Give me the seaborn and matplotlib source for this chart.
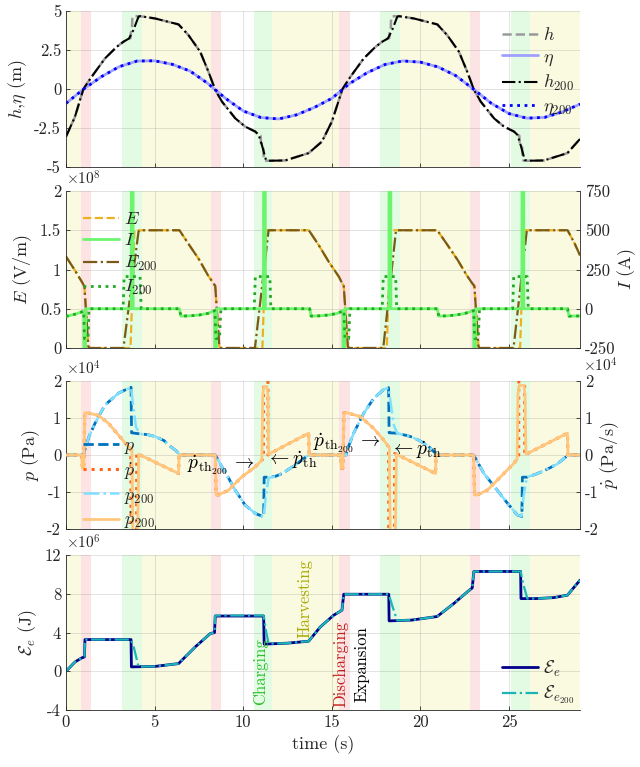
import matplotlib
matplotlib.use("Agg")
import matplotlib.pyplot as plt
import seaborn as sns
from matplotlib.ticker import FuncFormatter

# ---------------- data ----------------
# phase background spans (s)
span_start = [0, 0.83, 3.18, 4.31, 8.19, 10.58, 11.62, 15.42, 17.7, 18.83, 22.77, 25.12, 26.18]
span_end = [0.83, 1.41, 4.31, 8.19, 8.76, 11.62, 15.42, 16.04, 18.83, 22.77, 23.35, 26.18, 29.0]
span_kind = ['harvest', 'discharge', 'charge', 'harvest', 'discharge', 'charge', 'harvest',
             'discharge', 'charge', 'harvest', 'discharge', 'charge', 'harvest']

# panel 1: heights (m)
t_h = [0, 0.5, 0.98, 1.45, 2.2, 2.86, 3.24, 3.56, 3.64, 3.66, 3.72, 3.74, 3.8, 4.18, 5.03, 6.35, 6.91,
       7.57, 8.04, 8.42, 8.8, 9.55, 10.11, 10.68, 10.87, 10.98, 11.0, 11.13, 11.15, 11.22, 11.43, 12.37,
       13.69, 14.44, 15.0, 15.6, 16.05, 16.8, 17.46, 17.84, 18.16, 18.24, 18.26, 18.32, 18.34, 18.4,
       18.78, 19.63, 20.95, 21.51, 22.17, 22.64, 23.02, 23.4, 24.15, 24.71, 25.28, 25.47, 25.58, 25.6,
       25.73, 25.75, 25.82, 26.03, 26.97, 28.29, 29.0]
h = [-3.05, -1.8, 0.0, 0.79, 1.96, 2.7, 3.03, 3.24, 3.26, 3.62, 3.72, 4.5, 4.66, 4.67, 4.52, 4.14, 3.45,
     2.39, 1.1, -0.06, -0.81, -1.88, -2.41, -2.73, -2.94, -3.0, -3.45, -3.62, -4.3, -4.6, -4.6, -4.58,
     -4.11, -3.37, -2.09, 0.0, 0.79, 1.96, 2.7, 3.03, 3.24, 3.26, 3.62, 3.72, 4.5, 4.66,
     4.67, 4.52, 4.14, 3.45, 2.39, 1.1, -0.06, -0.81, -1.88, -2.41, -2.73, -2.94, -3.0, -3.45,
     -3.62, -4.3, -4.6, -4.6, -4.58, -4.11, -3.2]
t_h200 = [0, 0.5, 0.98, 1.45, 2.2, 2.86, 3.24, 3.56, 3.8, 4.09, 4.18, 5.03, 6.35, 6.91, 7.57, 8.04, 8.42,
          8.8, 9.55, 10.11, 10.68, 10.87, 11.05, 11.28, 11.43, 12.37, 13.69, 14.44, 15.0, 15.6, 16.05,
          16.8, 17.46, 17.84, 18.16, 18.4, 18.69, 18.78, 19.63, 20.95, 21.51, 22.17, 22.64, 23.02, 23.4,
          24.15, 24.71, 25.28, 25.47, 25.65, 25.88, 26.03, 26.97, 28.29, 29.0]
h200 = [-3.05, -1.8, 0.0, 0.79, 1.96, 2.7, 3.03, 3.24, 3.77, 4.63, 4.67, 4.52, 4.14, 3.45, 2.39, 1.1, -0.06,
        -0.81, -1.88, -2.41, -2.73, -2.94, -3.58, -4.54, -4.6, -4.58, -4.11, -3.37, -2.09, 0.0, 0.79,
        1.96, 2.7, 3.03, 3.24, 3.77, 4.63, 4.67, 4.52, 4.14, 3.45, 2.39, 1.1, -0.06, -0.81,
        -1.88, -2.41, -2.73, -2.94, -3.58, -4.54, -4.6, -4.58, -4.11, -3.2]
t_eta = list(range(0, 30))
eta = [-0.92, 0.0, 0.79, 1.43, 1.79, 1.81, 1.58, 1.15, 0.36, -0.6, -1.41, -1.83, -1.92, -1.66, -1.19,
       -0.6, 0.35, 1.05, 1.57, 1.8, 1.72, 1.41, 0.85, -0.02, -0.92, -1.58, -1.87, -1.82, -1.47, -0.97]
eta200 = [-0.92, 0.0, 0.79, 1.43, 1.79, 1.81, 1.58, 1.15, 0.36, -0.6, -1.41, -1.83, -1.92, -1.66, -1.19,
          -0.6, 0.35, 1.05, 1.57, 1.8, 1.72, 1.41, 0.85, -0.02, -0.92, -1.58, -1.87, -1.82, -1.47, -0.97]

# panel 2: field (x1e8 V/m) and current (A)
t_E = [0, 0.5, 0.94, 1.04, 1.26, 1.32, 3.64, 3.86, 6.4, 6.9, 7.5, 8.0, 8.3, 8.42, 8.65, 8.72, 11.08, 11.3,
       13.7, 14.26, 14.82, 15.39, 15.57, 15.67, 15.9, 15.97, 18.1, 18.32, 20.95, 21.5, 22.1, 22.6, 22.9,
       23.04, 23.27, 23.34, 25.62, 25.84, 28.3, 28.7, 29.0]
E = [1.165, 0.99, 0.826, 0.78, 0.02, 0, 0, 1.5, 1.5, 1.33, 1.13, 0.93, 0.83, 0.79, 0.02, 0, 0, 1.5,
     1.5, 1.31, 1.1, 0.91, 0.83, 0.79, 0.02, 0, 0, 1.5, 1.5, 1.32, 1.12, 0.93, 0.83,
     0.79, 0.02, 0, 0, 1.5, 1.5, 1.33, 1.18]
t_E200 = [0, 0.5, 0.94, 1.04, 1.26, 1.32, 3.24, 4.09, 4.15, 6.4, 6.9, 7.5, 8.0, 8.3, 8.42, 8.65, 8.72,
          10.66, 11.43, 13.7, 14.26, 14.82, 15.39, 15.57, 15.67, 15.9, 15.97, 17.9, 18.62, 20.95, 21.5,
          22.1, 22.6, 22.9, 23.04, 23.27, 23.34, 25.25, 26.0, 28.3, 28.7, 29.0]
E200 = [1.165, 0.99, 0.826, 0.78, 0.02, 0, 0, 1.48, 1.5, 1.5, 1.33, 1.13, 0.93, 0.83, 0.79, 0.02, 0,
        0, 1.5, 1.5, 1.31, 1.1, 0.91, 0.83, 0.79, 0.02, 0, 0, 1.5, 1.5, 1.32,
        1.12, 0.93, 0.83, 0.79, 0.02, 0, 0, 1.5, 1.5, 1.33, 1.18]
t_I = [0, 0.5, 0.85, 1.0, 1.02, 1.09, 1.11, 3.68, 3.7, 3.77, 3.79, 6.4, 6.48, 7.0, 7.5, 8.0, 8.38, 8.4,
       8.47, 8.49, 11.14, 11.16, 11.23, 11.25, 13.75, 13.83, 14.3, 14.8, 15.3, 15.62, 15.64, 15.71, 15.73,
       18.22, 18.24, 18.31, 18.33, 20.95, 21.03, 21.5, 22.0, 22.5, 23.0, 23.02, 23.09, 23.11, 25.72, 25.74,
       25.81, 25.83, 28.3, 28.38, 29.0]
I = [-49, -35, -22, -15, -900, -900, 0, 0, 2500, 2500, 0, 0, -47, -45, -40, -30, -12, -900,
     -900, 0, 0, 2500, 2500, 0, 0, -47, -45, -40, -30, -12, -900, -900, 0,
     0, 2500, 2500, 0, 0, -47, -45, -40, -30, -12, -900, -900, 0, 0, 2500,
     2500, 0, 0, -47, -46]
t_I200 = [0, 0.5, 0.85, 1.0, 1.04, 1.24, 1.3, 3.22, 3.28, 4.18, 4.24, 6.4, 6.48, 7.0, 7.5, 8.0, 8.4, 8.46,
          8.66, 8.74, 10.62, 10.68, 11.5, 11.56, 13.75, 13.83, 14.3, 14.8, 15.3, 15.68, 15.74, 15.95,
          16.02, 17.84, 17.9, 18.6, 18.66, 20.95, 21.03, 21.5, 22.0, 22.5, 23.0, 23.06, 23.26, 23.33,
          25.2, 25.26, 26.02, 26.08, 28.3, 28.38, 29.0]
I200 = [-49, -35, -22, -15, -190, -190, 0, 0, 205, 205, 0, 0, -47, -45, -40, -30, -12, -190,
        -190, 0, 0, 205, 205, 0, 0, -47, -45, -40, -30, -12, -190, -190,
        0, 0, 205, 205, 0, 0, -47, -45, -40, -30, -12, -190, -190, 0,
        0, 205, 205, 0, 0, -47, -46]

# panel 3: pressure (x1e4 Pa) and its rate (x1e4 Pa/s)
t_p = [0, 1.0, 1.04, 1.3, 1.64, 2.2, 2.96, 3.43, 3.67, 3.7, 4.18, 4.6, 5.03, 5.53, 5.78, 6.2, 6.42, 8.42,
       8.8, 9.17, 9.55, 10.1, 10.68, 11.15, 11.18, 11.43, 11.8, 12.2, 12.94, 13.4, 13.69, 15.8, 15.86,
       16.23, 16.8, 17.36, 17.93, 18.2, 18.23, 18.68, 19.43, 19.9, 20.38, 20.94, 23.0, 23.58, 24.33,
       24.9, 25.46, 25.72, 25.75, 26.0, 26.5, 27.0, 27.7, 28.34, 29.0]
p = [0, 0, 0.1, 0.5, 0.86, 1.35, 1.67, 1.78, 1.83, 0.6, 0.57, 0.55, 0.5, 0.39, 0.27, 0.12, 0, 0,
     -0.32, -0.62, -0.95, -1.35, -1.58, -1.67, -0.6, -0.6, -0.58, -0.5, -0.27, -0.1, 0, 0, 0.13,
     0.59, 1.13, 1.53, 1.77, 1.82, 0.6, 0.59, 0.5, 0.4, 0.27, 0, 0, -0.5, -0.95,
     -1.3, -1.62, -1.66, -0.6, -0.6, -0.52, -0.42, -0.25, 0, 0]
t_p200 = [0, 1.0, 1.04, 1.3, 1.64, 2.2, 2.96, 3.43, 3.67, 3.8, 3.95, 4.18, 4.6, 5.03, 5.53, 5.78, 6.2,
          6.42, 8.42, 8.8, 9.17, 9.55, 10.1, 10.68, 11.15, 11.28, 11.43, 11.8, 12.2, 12.94, 13.4, 13.69,
          15.8, 15.86, 16.23, 16.8, 17.36, 17.93, 18.2, 18.35, 18.5, 18.68, 19.43, 19.9, 20.38, 20.94,
          23.0, 23.58, 24.33, 24.9, 25.46, 25.7, 25.82, 26.0, 26.5, 27.0, 27.7, 28.34, 29.0]
p200 = [0, 0, 0.1, 0.5, 0.86, 1.35, 1.67, 1.78, 1.83, 1.3, 0.75, 0.57, 0.55, 0.5, 0.39, 0.27, 0.12,
        0, 0, -0.32, -0.62, -0.95, -1.35, -1.58, -1.67, -1.1, -0.62, -0.58, -0.5, -0.27, -0.1, 0,
        0, 0.13, 0.59, 1.13, 1.53, 1.77, 1.82, 1.3, 0.8, 0.59, 0.5, 0.4, 0.27, 0,
        0, -0.5, -0.95, -1.3, -1.62, -1.65, -1.1, -0.6, -0.52, -0.42, -0.25, 0, 0]
t_pd = [0, 0.88, 0.93, 1.0, 1.06, 1.2, 1.83, 2.39, 2.96, 3.43, 3.66, 3.68, 3.97, 3.99, 4.1, 6.35, 6.38,
        8.42, 8.47, 8.6, 9.17, 9.92, 10.68, 11.05, 11.14, 11.16, 11.38, 11.4, 11.43, 13.69, 13.72, 15.5,
        15.54, 15.62, 15.68, 15.86, 16.6, 17.36, 17.93, 18.2, 18.22, 18.52, 18.54, 18.64, 20.85, 20.88,
        23.0, 23.05, 23.2, 23.77, 24.52, 25.18, 25.45, 25.54, 25.56, 25.86, 25.88, 25.95, 28.29, 28.32,
        29.0]
pd_ = [0, 0, -0.36, -0.36, 1.14, 1.14, 1.07, 0.86, 0.54, 0.27, 0.18, -6, -6, 0.04, 0.02, -0.5, 0,
       0, -1.08, -1.08, -0.95, -0.59, -0.32, -0.14, -0.08, 6, 6, 0.0, 0.02, 0.59, 0, 0,
       -0.36, -0.36, 1.14, 1.14, 1.04, 0.72, 0.4, 0.22, -6, -6, 0.04, 0.02, -0.5, 0,
       0, -1.08, -1.08, -0.95, -0.59, -0.27, -0.12, -0.08, 6, 6, 0.0, 0.02, 0.59, 0,
       0]
t_pd200 = [0, 0.88, 0.93, 1.0, 1.06, 1.2, 1.83, 2.39, 2.96, 3.43, 3.72, 3.78, 4.04, 4.1, 6.35, 6.38,
           8.42, 8.47, 8.6, 9.17, 9.92, 10.68, 11.05, 11.1, 11.16, 11.33, 11.4, 11.43, 13.69, 13.72,
           15.5, 15.54, 15.62, 15.68, 15.86, 16.6, 17.36, 17.93, 18.24, 18.3, 18.58, 18.64, 20.85,
           20.88, 23.0, 23.05, 23.2, 23.77, 24.52, 25.18, 25.45, 25.5, 25.56, 25.84, 25.9, 25.95,
           28.29, 28.32, 29.0]
pd200 = [0, 0, -0.36, -0.36, 1.14, 1.14, 1.07, 0.86, 0.54, 0.27, 0.15, -2.4, -2.4, 0.02, -0.5, 0,
         0, -1.08, -1.08, -0.95, -0.59, -0.32, -0.14, 1.6, 1.85, 1.85, 1.6, 0.02, 0.59, 0,
         0, -0.36, -0.36, 1.14, 1.14, 1.04, 0.72, 0.4, 0.2, -2.4, -2.4, 0.02, -0.5,
         0, 0, -1.08, -1.08, -0.95, -0.59, -0.27, -0.12, 1.65, 1.88, 1.88, 1.6, 0.02,
         0.59, 0, 0]

# panel 4: harvested energy (x1e6 J)
t_Ee = [0, 0.51, 0.89, 1.04, 1.07, 3.67, 3.69, 5.03, 6.35, 7.29, 8.14, 8.38, 8.42, 11.15, 11.18, 12.5,
        13.69, 14.35, 15.1, 15.57, 15.67, 18.21, 18.23, 19.5, 20.94, 21.88, 22.64, 22.92, 23.01, 25.65,
        25.67, 26.5, 27.5, 28.29, 29.0]
Ee = [0, 0.96, 1.38, 1.48, 3.27, 3.27, 0.45, 0.5, 0.79, 2.51, 3.89, 3.99, 5.7, 5.7, 2.8, 2.9,
      3.1, 4.58, 5.78, 6.3, 7.95, 7.95, 5.2, 5.28, 5.65, 6.99, 8.19, 8.6, 10.3, 10.3,
      7.5, 7.5, 7.6, 7.85, 9.4]
t_Ee200 = [0, 0.51, 0.89, 1.04, 1.07, 3.67, 3.85, 4.09, 5.03, 6.35, 7.29, 8.14, 8.38, 8.42, 11.15, 11.3,
           11.43, 12.5, 13.69, 14.35, 15.1, 15.57, 15.67, 18.21, 18.4, 18.68, 19.5, 20.94, 21.88, 22.64,
           22.92, 23.01, 25.65, 25.8, 26.03, 26.5, 27.5, 28.29, 29.0]
Ee200 = [0, 0.96, 1.38, 1.48, 3.27, 3.27, 2.3, 0.47, 0.5, 0.79, 2.51, 3.89, 3.99, 5.75, 5.75, 4.0,
         2.85, 2.9, 3.1, 4.58, 5.78, 6.3, 7.95, 7.95, 6.8, 5.25, 5.28, 5.65, 6.99, 8.19,
         8.6, 10.3, 10.3, 9.0, 7.5, 7.5, 7.6, 7.85, 9.4]

x_ticks = [0, 5, 10, 15, 20, 25]
phase_labels = ['Charging', 'Harvesting', 'Discharging', 'Expansion']

# ---------------- style ----------------
sns.set_theme(style="white")
plt.rcParams.update({
    'font.family': 'serif',
    'font.serif': ['cmr10', 'DejaVu Serif'],
    'mathtext.fontset': 'cm',
    'axes.unicode_minus': False,
    'axes.formatter.use_mathtext': True,
})

span_col = {'harvest': '#fafae1', 'discharge': '#fce4e4', 'charge': '#e3fbe3'}
AX_C = '#262626'
fmt = FuncFormatter(lambda v, pos: f'{v:g}')

fig = plt.figure(figsize=(6.4, 7.67), dpi=100)
L, W = 66 / 640, 514 / 640


def rect(top, bottom):
    return [L, 1 - bottom / 767, W, (bottom - top) / 767]


ax1 = fig.add_axes(rect(11, 167))
ax2 = fig.add_axes(rect(191, 348))
ax3 = fig.add_axes(rect(381, 529))
ax4 = fig.add_axes(rect(555, 710))
ax2r = ax2.twinx()
ax3r = ax3.twinx()


def style(ax, yticks, ylim, xlabels=False):
    ax.set_xlim(0, 29)
    ax.set_ylim(*ylim)
    ax.set_xticks(x_ticks)
    ax.set_yticks(yticks)
    ax.yaxis.set_major_formatter(fmt)
    ax.xaxis.set_major_formatter(fmt)
    ax.grid(True, color=AX_C, alpha=0.15, lw=0.6)
    ax.set_axisbelow(True)
    ax.tick_params(direction='in', length=3, width=0.6, colors=AX_C, labelsize=12,
                   labelbottom=xlabels, bottom=True, left=True)
    for s in ['top', 'right']:
        ax.spines[s].set_visible(False)
    for s in ['left', 'bottom']:
        ax.spines[s].set_color(AX_C)
        ax.spines[s].set_linewidth(0.6)
    for s, e, k in zip(span_start, span_end, span_kind):
        ax.axvspan(s, e, color=span_col[k], lw=0, zorder=0)


def style_r(ax, yticks, ylim):
    ax.set_ylim(*ylim)
    ax.set_yticks(yticks)
    ax.yaxis.set_major_formatter(fmt)
    ax.grid(False)
    for s in ['top', 'left', 'bottom']:
        ax.spines[s].set_visible(False)
    ax.spines['right'].set_visible(True)
    ax.spines['right'].set_color(AX_C)
    ax.spines['right'].set_linewidth(0.6)
    ax.tick_params(axis='y', direction='in', length=3, width=0.6, colors=AX_C, labelsize=12, right=True)


def line(ax, t, y, color, ls, lw):
    sns.lineplot(x=t, y=y, ax=ax, color=color, linestyle=ls, linewidth=lw,
                 estimator=None, sort=False, legend=False)
    return ax.lines[-1]


leg_kw = dict(frameon=False, fontsize=13, handlelength=2.0, handletextpad=0.3,
              labelspacing=0.3, borderpad=0)

# ---- panel 1 ----
style(ax1, [-5, -2.5, 0, 2.5, 5], (-5, 5))
l_h = line(ax1, t_h, h, '#9a9a9a', '--', 1.8)
l_eta = line(ax1, t_eta, eta, '#a0a0ff', '-', 2.0)
l_h200 = line(ax1, t_h200, h200, 'black', '-.', 1.5)
l_eta200 = line(ax1, t_eta, eta200, '#0000ff', ':', 2.0)
ax1.set_ylabel(r'$h,\!\eta$ (m)', fontsize=13, color=AX_C)
ax1.legend([l_h, l_eta, l_h200, l_eta200], [r'$h$', r'$\eta$', r'$h_{200}$', r'$\eta_{200}$'],
           loc='upper left', bbox_to_anchor=(0.83, 0.96), **leg_kw)

# ---- panel 2 ----
style(ax2, [0, 0.5, 1, 1.5, 2], (0, 2))
style_r(ax2r, [-250, 0, 250, 500, 750], (-250, 750))
l_E = line(ax2, t_E, E, '#EDB120', '--', 1.6)
l_E200 = line(ax2, t_E200, E200, '#7a5a14', '-.', 1.6)
l_I = line(ax2r, t_I, I, '#6cf56c', '-', 2.0)
l_I200 = line(ax2r, t_I200, I200, '#22a822', ':', 2.0)
ax2.set_ylabel(r'$E$ (V/m)', fontsize=13, color=AX_C)
ax2r.set_ylabel(r'$I$ (A)', fontsize=13, color=AX_C, rotation=90, labelpad=0)
ax2.text(0, 1.02, r'$\times10^{8}$', transform=ax2.transAxes, ha='left', va='bottom', fontsize=11, color=AX_C)
ax2r.legend([l_E, l_I, l_E200, l_I200], [r'$E$', r'$I$', r'$E_{200}$', r'$I_{200}$'],
            loc='upper left', bbox_to_anchor=(0.015, 0.93), **leg_kw)

# ---- panel 3 ----
style(ax3, [-2, -1, 0, 1, 2], (-2, 2))
style_r(ax3r, [-2, -1, 0, 1, 2], (-2, 2))
l_p = line(ax3, t_p, p, '#0072BD', '--', 2.0)
l_p200 = line(ax3, t_p200, p200, '#80e0ff', '-.', 1.8)
l_pd = line(ax3r, t_pd, pd_, '#ff6418', ':', 2.2)
l_pd200 = line(ax3r, t_pd200, pd200, '#ffc67c', '-', 2.0)
ax3.set_ylabel(r'$p$ (Pa)', fontsize=13, color=AX_C)
ax3r.set_ylabel(r'$\dot{p}$ (Pa/s)', fontsize=13, color=AX_C, rotation=90, labelpad=0)
ax3.text(0, 1.02, r'$\times10^{4}$', transform=ax3.transAxes, ha='left', va='bottom', fontsize=11, color=AX_C)
ax3.text(1.005, 1.045, r'$\times10^{4}$', transform=ax3.transAxes, ha='left', va='bottom', fontsize=11, color=AX_C)
ax3r.legend([l_p, l_pd, l_p200, l_pd200], [r'$p$', r'$\dot{p}$', r'$p_{200}$', r'$\dot{p}_{200}$'],
            loc='upper left', bbox_to_anchor=(0.015, 0.68), **leg_kw)
ann_kw = dict(fontsize=14, color='black', va='center')
ax3r.text(10.64, -0.27, r'$\dot{p}_{\mathrm{th}_{200}}\,\rightarrow$', ha='right', **ann_kw)
ax3r.text(11.3, -0.15, r'$\leftarrow\dot{p}_{\mathrm{th}}$', ha='left', **ann_kw)
ax3r.text(17.74, 0.32, r'$\dot{p}_{\mathrm{th}_{200}}\,\rightarrow$', ha='right', **ann_kw)
ax3r.text(18.3, 0.13, r'$\leftarrow\dot{p}_{\mathrm{th}}$', ha='left', **ann_kw)

# ---- panel 4 ----
style(ax4, [-4, 0, 4, 8, 12], (-4, 12), xlabels=True)
l_Ee = line(ax4, t_Ee, Ee, '#00008b', '-', 2.0)
l_Ee200 = line(ax4, t_Ee200, Ee200, '#1bb5b5', '-.', 1.6)
ax4.set_ylabel(r'$\mathcal{E}_e$ (J)', fontsize=13, color=AX_C)
ax4.set_xlabel('time (s)', fontsize=13, color=AX_C)
ax4.text(0, 1.02, r'$\times10^{6}$', transform=ax4.transAxes, ha='left', va='bottom', fontsize=11, color=AX_C)
ax4.legend([l_Ee, l_Ee200], [r'$\mathcal{E}_e$', r'$\mathcal{E}_{e_{200}}$'],
           loc='upper left', bbox_to_anchor=(0.83, 0.39), **leg_kw)
txt_kw = dict(rotation=90, ha='center', va='bottom', fontsize=12)
ax4.text(10.96, -3.5, phase_labels[0], color='#2cc02c', **txt_kw)
ax4.text(13.5, 3.4, phase_labels[1], color='#a8a800', **txt_kw)
ax4.text(15.48, -3.7, phase_labels[2], color='#c41e1e', **txt_kw)
ax4.text(16.67, -3.2, phase_labels[3], color='black', **txt_kw)

fig.savefig('out.png', dpi=100)
